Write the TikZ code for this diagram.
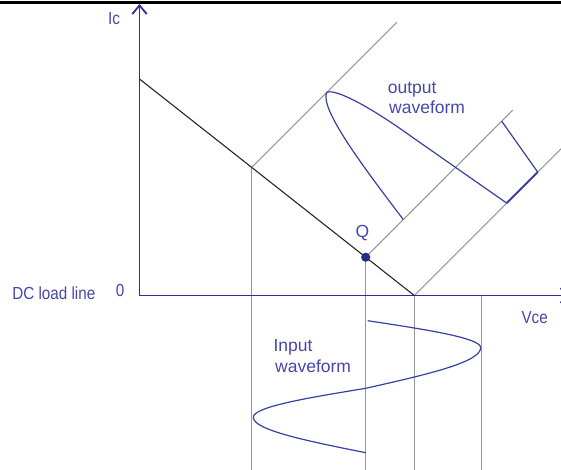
\documentclass[tikz,border=0pt]{standalone}
\usepackage{fontspec}
\setmainfont{Liberation Sans}
\newfontfamily\condfont{Liberation Sans}[FakeStretch=0.87]
\usetikzlibrary{arrows.meta}
\definecolor{axisblue}{RGB}{45,45,160}
\definecolor{waveblue}{RGB}{55,65,165}
\definecolor{txtblue}{RGB}{70,70,175}
\definecolor{gridgray}{RGB}{150,150,150}
\definecolor{qdot}{RGB}{35,45,140}
\begin{document}
\begin{tikzpicture}[x=1pt,y=-1pt,
  axis/.style={axisblue,line width=1.8pt},
  guide/.style={gridgray,line width=1.1pt},
  wave/.style={waveblue,line width=1.2pt,line join=round},
  loadln/.style={black!85,line width=1.1pt},
  lbl/.style={txtblue,inner sep=0pt,font=\fontsize{17.5}{20}\selectfont},
  clbl/.style={txtblue,inner sep=0pt,font=\condfont\fontsize{17.5}{20}\selectfont}]
\useasboundingbox (0,0) rectangle (561,470);
\clip (0,0) rectangle (561,470);
% top border
\fill[black] (0,1) rectangle (561,4);
% key points
\coordinate (O)  at (139.5,295.5);
\coordinate (YT) at (139.5,4);
\coordinate (XT) at (570.5,295.5);
\coordinate (L0) at (139.5,79);
\coordinate (L1) at (251.7,167.4);
\coordinate (Q)  at (365.7,257.2);
\coordinate (L2) at (414.3,295.5);
\coordinate (D1) at (396.7,22.4);
\coordinate (D2) at (512.7,110.2);
\coordinate (D3) at (564.3,145.5);
\coordinate (V4) at (481.7,295.5);
\coordinate (B1) at (251.7,470);
\coordinate (B2) at (365.7,470);
\coordinate (B3) at (414.3,470);
\coordinate (B4) at (481.7,470);
% guide lines
\draw[guide] (L1) -- (B1);
\draw[guide] (Q) -- (B2);
\draw[guide] (L2) -- (B3);
\draw[guide] (V4) -- (B4);
\draw[guide] (L1) -- (D1);
\draw[guide] (Q) -- (D2);
\draw[guide] (L2) -- (D3);
% axes
\draw[axis,-{Straight Barb[length=8.7pt,width=14.6pt]}] (O) -- (YT);
\draw[axis,-{Straight Barb[length=8.7pt,width=14.6pt]}] (O) -- (XT);
% load line
\draw[loadln] (L0) -- (L2);
% output waveform
\coordinate (W0) at (403.3,219.6);
\coordinate (WP) at (326.5,92.6);
\coordinate (WM) at (413.3,137.9);
\coordinate (WC) at (506.7,203.1);
\coordinate (WD) at (537.7,172.1);
\coordinate (WE) at (501.7,121.2);
\draw[wave] (W0) .. controls (365,169) and (320,110) .. (WP)
  .. controls (333,88) and (365,103) .. (WM) -- (WC);
\draw[waveblue,line width=2pt] (WC) -- (WD);
\draw[wave] (WD) -- (WE);
% input waveform
\coordinate (I0) at (367.7,320.7);
\coordinate (I1) at (480.7,347.7);
\coordinate (I2) at (365.7,388.3);
\coordinate (I3) at (253.3,417.3);
\coordinate (I4) at (365.7,452.7);
\draw[wave] (I0) .. controls (427,329.7) and (480.7,338) .. (I1)
  .. controls (480.7,362.3) and (426.1,374.7) .. (I2)
  .. controls (306.7,398) and (253.3,406.9) .. (I3)
  .. controls (253.3,430) and (306.7,440.9) .. (I4);
% Q point
\fill[qdot] (Q) circle (4.6);
% labels
\node[clbl,anchor=base] (ic) at (114,25) {Ic};
\node[clbl,anchor=base] (zero) at (120,296) {0};
\node[clbl,anchor=base west] (dcl) at (12.2,299) {DC load line};
\node[clbl,anchor=base] (vce) at (534.7,323.3) {Vce};
\node[lbl,anchor=base] (ql) at (362.3,237.5) {Q};
\node[lbl,anchor=base west] (outa) at (387.7,93.5) {output};
\node[lbl,anchor=base west] (outb) at (389,114) {waveform};
\node[lbl,anchor=base west] (ina) at (273.4,351) {Input};
\node[lbl,anchor=base west] (inb) at (275,372.7) {waveform};
\end{tikzpicture}
\end{document}
